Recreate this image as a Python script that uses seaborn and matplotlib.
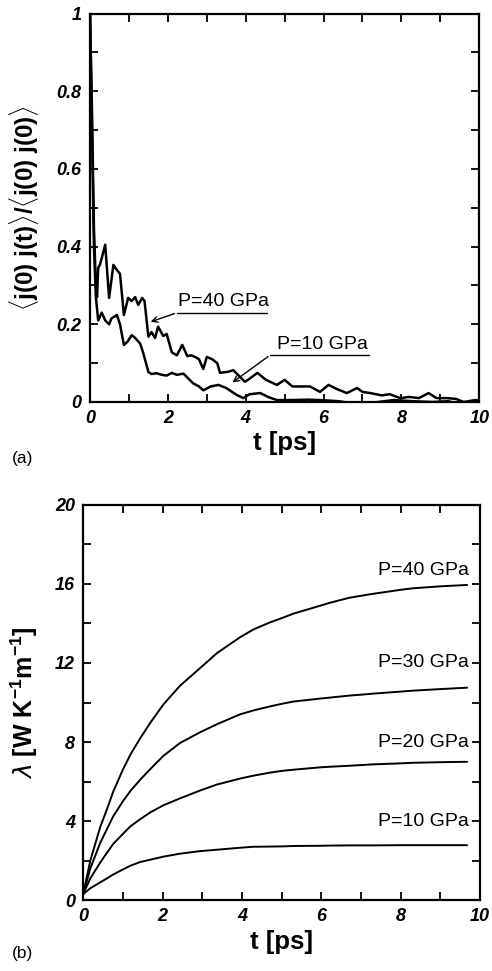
import matplotlib
matplotlib.use('Agg')
import matplotlib.pyplot as plt
import seaborn as sns
import numpy as np
from matplotlib.ticker import MultipleLocator, FuncFormatter

# panel (a): normalised heat-current autocorrelation
t_40 = [0.0, 0.05, 0.1, 0.15, 0.18, 0.21, 0.26, 0.39, 0.49, 0.6, 0.69, 0.77, 0.87, 0.98,
        1.07, 1.16, 1.24, 1.34, 1.4, 1.5, 1.58, 1.67, 1.75, 1.88, 1.97, 2.1, 2.23, 2.37,
        2.5, 2.6, 2.7, 2.8, 2.91, 3.0, 3.14, 3.27, 3.34, 3.56, 3.68, 3.8, 3.98, 4.1, 4.3,
        4.52, 4.8, 5.0, 5.2, 5.4, 5.65, 5.91, 6.13, 6.35, 6.6, 6.86, 7.0, 7.2, 7.5, 7.7,
        7.97, 8.2, 8.45, 8.7, 8.9, 9.17, 9.4, 9.6, 9.9, 10.0]
acf_40 = [1.0, 0.75, 0.45, 0.3, 0.27, 0.345, 0.355, 0.405, 0.268, 0.353, 0.34, 0.33, 0.224,
          0.268, 0.26, 0.27, 0.25, 0.268, 0.26, 0.168, 0.18, 0.165, 0.194, 0.17, 0.175,
          0.128, 0.12, 0.147, 0.118, 0.12, 0.116, 0.11, 0.085, 0.116, 0.11, 0.1, 0.075,
          0.078, 0.082, 0.07, 0.052, 0.06, 0.075, 0.057, 0.044, 0.057, 0.04, 0.04, 0.04,
          0.026, 0.044, 0.033, 0.023, 0.036, 0.026, 0.023, 0.017, 0.02, 0.01, 0.013, 0.01,
          0.023, 0.01, 0.01, 0.008, 0.0, 0.005, 0.004]

t_10 = [0.0, 0.05, 0.1, 0.15, 0.21, 0.3, 0.39, 0.49, 0.55, 0.69, 0.77, 0.87, 0.96, 1.07,
        1.16, 1.29, 1.37, 1.5, 1.58, 1.71, 1.84, 1.97, 2.1, 2.23, 2.4, 2.53, 2.65, 2.8,
        2.91, 3.1, 3.3, 3.5, 3.77, 3.94, 4.1, 4.37, 4.6, 4.8, 5.2, 5.6, 5.9, 6.4, 7.0,
        7.4, 7.8, 8.3, 8.8, 9.2, 9.5, 9.8, 10.0]
acf_10 = [1.0, 0.7, 0.4, 0.27, 0.21, 0.23, 0.21, 0.2, 0.215, 0.224, 0.2, 0.147, 0.155,
          0.172, 0.165, 0.15, 0.125, 0.077, 0.072, 0.074, 0.07, 0.068, 0.075, 0.07, 0.073,
          0.06, 0.048, 0.04, 0.03, 0.04, 0.044, 0.036, 0.018, 0.01, 0.02, 0.023, 0.012,
          0.005, 0.005, 0.006, 0.005, 0.002, -0.008, 0.0, 0.005, 0.002, 0.0, 0.002,
          -0.005, 0.0, 0.0]

# panel (b): running thermal conductivity
t_b = [0.0, 0.18, 0.43, 0.6, 0.76, 1.0, 1.2, 1.44, 1.7, 2.02, 2.44, 2.95, 3.37, 3.95,
       4.29, 4.7, 5.04, 5.3, 5.97, 6.22, 6.7, 7.14, 7.3, 7.98, 8.3, 9.0, 9.67]
lam_40 = [0.3, 2.0, 3.7, 4.6, 5.5, 6.6, 7.4, 8.2, 9.0, 9.9, 10.85, 11.75, 12.5, 13.3,
          13.7, 14.05, 14.3, 14.5, 14.9, 15.05, 15.3, 15.45, 15.5, 15.7, 15.78, 15.88, 15.95]
lam_30 = [0.3, 1.6, 2.9, 3.6, 4.25, 5.0, 5.55, 6.1, 6.65, 7.3, 7.95, 8.5, 8.9, 9.4,
          9.6, 9.8, 9.95, 10.05, 10.2, 10.25, 10.35, 10.42, 10.45, 10.55, 10.6, 10.68, 10.75]
lam_20 = [0.3, 1.1, 1.9, 2.4, 2.85, 3.35, 3.75, 4.1, 4.45, 4.8, 5.15, 5.55, 5.85, 6.15,
          6.3, 6.45, 6.55, 6.6, 6.72, 6.75, 6.8, 6.85, 6.87, 6.92, 6.95, 6.98, 7.0]
lam_10 = [0.3, 0.6, 0.9, 1.1, 1.3, 1.55, 1.75, 1.93, 2.05, 2.2, 2.35, 2.48, 2.55, 2.65,
          2.7, 2.71, 2.72, 2.74, 2.75, 2.76, 2.77, 2.77, 2.77, 2.78, 2.78, 2.78, 2.78]
labels_b = ['P=40 GPa', 'P=30 GPa', 'P=20 GPa', 'P=10 GPa']
label_y = [16.7, 12.0, 8.0, 4.0]

sns.set_style('ticks')
plt.rcParams['font.family'] = ['Liberation Sans', 'DejaVu Sans']
plt.rcParams['mathtext.fontset'] = 'custom'
plt.rcParams['mathtext.rm'] = 'Liberation Sans'
plt.rcParams['mathtext.bf'] = 'Liberation Sans:bold'
plt.rcParams['text.color'] = 'black'
plt.rcParams['axes.labelcolor'] = 'black'
plt.rcParams['xtick.color'] = 'black'
plt.rcParams['ytick.color'] = 'black'

fig = plt.figure(figsize=(4.92, 9.71), dpi=100)
ax1 = fig.add_axes([0.183, 0.586, 0.791, 0.400])
ax2 = fig.add_axes([0.169, 0.073, 0.807, 0.407])

fmt = FuncFormatter(lambda v, pos: '%g' % round(v, 3))


def style_axis(ax, xmaj, xmin, ymaj, ymin):
    ax.xaxis.set_major_locator(MultipleLocator(xmaj))
    ax.xaxis.set_minor_locator(MultipleLocator(xmin))
    ax.yaxis.set_major_locator(MultipleLocator(ymaj))
    ax.yaxis.set_minor_locator(MultipleLocator(ymin))
    ax.xaxis.set_major_formatter(fmt)
    ax.yaxis.set_major_formatter(fmt)
    ax.tick_params(which='both', direction='in', top=True, right=True, width=1.3)
    ax.tick_params(which='major', length=6, pad=6)
    ax.tick_params(which='minor', length=6)
    for lab in ax.get_xticklabels() + ax.get_yticklabels():
        lab.set_fontweight('bold')
        lab.set_fontstyle('italic')
        lab.set_fontsize(13)
    for s in ax.spines.values():
        s.set_linewidth(1.6)
        s.set_color('black')


# (a)
sns.lineplot(x=t_40, y=acf_40, ax=ax1, color='black', lw=1.8, sort=False)
sns.lineplot(x=t_10, y=acf_10, ax=ax1, color='black', lw=1.8, sort=False)
ax1.set_xlim(0, 10)
ax1.set_ylim(0, 1)
style_axis(ax1, 2, 1, 0.2, 0.1)
ax1.set_xlabel('t [ps]', fontsize=18.5, fontweight='bold', labelpad=3)
ax1.set_ylabel(r'$\langle$j(0) j(t)$\rangle$/$\langle$j(0) j(0)$\rangle$',
               fontsize=17.5, fontweight='bold', labelpad=11)

ax1.annotate('', xy=(1.49, 0.204), xytext=(2.24, 0.23),
             arrowprops=dict(arrowstyle='->', color='black', lw=1.0))
ax1.plot([2.24, 4.55], [0.23, 0.23], color='black', lw=1.0)
ax1.text(2.27, 0.236, 'P=40 GPa', fontsize=14, va='bottom', ha='left')
ax1.annotate('', xy=(3.6, 0.046), xytext=(4.63, 0.121),
             arrowprops=dict(arrowstyle='->', color='black', lw=1.0))
ax1.plot([4.63, 7.17], [0.121, 0.121], color='black', lw=1.0)
ax1.text(4.8, 0.127, 'P=10 GPa', fontsize=14, va='bottom', ha='left')
fig.text(0.024, 0.528, '(a)', fontsize=12.5, ha='left', va='center')

# (b)
for lam in [lam_40, lam_30, lam_20, lam_10]:
    sns.lineplot(x=t_b, y=lam, ax=ax2, color='black', lw=1.4, sort=False)
for lab, yy in zip(labels_b, label_y):
    ax2.text(9.72, yy, lab, fontsize=14, ha='right', va='center')
ax2.set_xlim(0, 10)
ax2.set_ylim(0, 20)
style_axis(ax2, 2, 1, 4, 2)
ax2.set_xlabel('t [ps]', fontsize=18.5, fontweight='bold', labelpad=3)
ax2.set_ylabel(r'$\lambda$ [W K$^{\mathbf{-1}}$m$^{\mathbf{-1}}$]', fontsize=18,
               fontweight='bold', labelpad=11)
fig.text(0.024, 0.0185, '(b)', fontsize=12.5, ha='left', va='center')

fig.savefig('out.png', dpi=100)
